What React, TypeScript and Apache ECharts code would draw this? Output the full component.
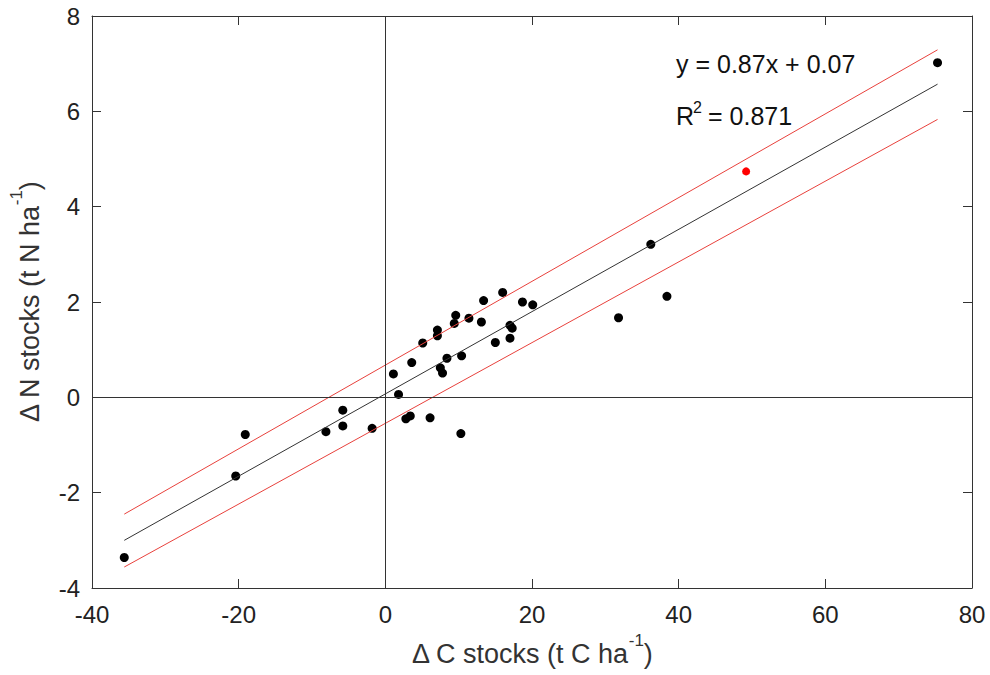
import React, { useEffect, useRef } from "react";
import * as echarts from "echarts";

const pointsX = [-35.6, -20.4, -19.1, -8.1, -5.8, -5.8, -1.8, 1.8, 1.1, 2.8, 3.4, 6.1, 10.3, 3.6, 5.1, 7.1, 7.1, 7.5, 7.8, 8.4, 9.6, 9.4, 10.4, 11.4, 13.1, 13.4, 15.0, 16.0, 17.0, 17.3, 17.0, 18.7, 20.1, 31.8, 38.4, 36.2, 75.3];
const pointsY = [-3.36, -1.65, -0.78, -0.72, -0.27, -0.60, -0.65, 0.06, 0.49, -0.45, -0.39, -0.43, -0.76, 0.73, 1.14, 1.41, 1.29, 0.62, 0.51, 0.82, 1.72, 1.55, 0.87, 1.66, 1.58, 2.03, 1.15, 2.20, 1.51, 1.45, 1.24, 2.0, 1.94, 1.67, 2.12, 3.21, 7.02];
const redPoint = [49.2, 4.74];
const fitX = [-35.6, 75.3];
const fitY = [-3.0, 6.57];
const upperY = [-2.45, 7.29];
const lowerY = [-3.56, 5.83];

const FONT = "'Liberation Sans', Arial, Helvetica, sans-serif";
const AXIS_COLOR = "#333";

export default function App() {
  const ref = useRef<HTMLDivElement>(null);
  useEffect(() => {
    document.body.style.margin = "0";
    if (!ref.current) return;
    const chart = echarts.init(ref.current, null, { renderer: "svg" });
    const pts = pointsX.map((x, i) => [x, pointsY[i]]);
    const line = (ys: number[]) => fitX.map((x, i) => [x, ys[i]]);
    const axisCommon = {
      type: "value" as const,
      splitLine: { show: false },
      axisLine: { show: true, onZero: false, lineStyle: { color: AXIS_COLOR, width: 1 } },
      axisTick: { show: true, inside: true, length: 9, lineStyle: { color: AXIS_COLOR } },
    };
    const nameRich = {
      a: { fontSize: 27, fontFamily: FONT, color: "#333", lineHeight: 44 },
      s: { fontSize: 17, fontFamily: FONT, color: "#333", lineHeight: 17, verticalAlign: "top" },
    };
    chart.setOption({
      animation: false,
      backgroundColor: "#fff",
      grid: { left: 88, right: 18, top: 16, bottom: 87, show: false },
      xAxis: [
        {
          ...axisCommon,
          min: -40,
          max: 80,
          interval: 20,
          axisLabel: { color: "#222", fontSize: 24, fontFamily: FONT, margin: 14 },
          name: "{a|Δ C stocks (t C ha}{s|-1}{a|)}",
          nameLocation: "middle",
          nameGap: 44,
          nameTextStyle: { rich: nameRich },
        },
        {
          ...axisCommon,
          position: "top",
          min: -40,
          max: 80,
          interval: 20,
          axisLabel: { show: false },
        },
      ],
      yAxis: [
        {
          ...axisCommon,
          min: -4,
          max: 8,
          interval: 2,
          axisLabel: { color: "#222", fontSize: 24, fontFamily: FONT, margin: 12 },
          name: "{a|Δ N stocks (t N ha}{s|-1}{a|)}",
          nameLocation: "middle",
          nameGap: 40,
          nameTextStyle: { rich: nameRich },
        },
        {
          ...axisCommon,
          position: "right",
          min: -4,
          max: 8,
          interval: 2,
          axisLabel: { show: false },
        },
      ],
      series: [
        {
          type: "line",
          data: line(upperY),
          showSymbol: false,
          lineStyle: { color: "#e8413c", width: 1 },
          silent: true,
          markLine: {
            silent: true,
            symbol: "none",
            label: { show: false },
            lineStyle: { color: "#333", width: 1, type: "solid" },
            data: [{ xAxis: 0 }, { yAxis: 0 }],
          },
        },
        {
          type: "line",
          data: line(lowerY),
          showSymbol: false,
          lineStyle: { color: "#e8413c", width: 1 },
          silent: true,
        },
        {
          type: "line",
          data: line(fitY),
          showSymbol: false,
          lineStyle: { color: "#333", width: 1 },
          silent: true,
        },
        {
          type: "scatter",
          data: pts,
          symbolSize: 9,
          itemStyle: { color: "#000", opacity: 1 },
        },
        {
          type: "scatter",
          data: [redPoint],
          symbolSize: 8,
          itemStyle: { color: "#f00", opacity: 1 },
        },
      ],
      graphic: [
        {
          type: "text",
          x: 676,
          y: 64,
          style: { text: "y = 0.87x + 0.07", fontSize: 25, fontFamily: FONT, fill: "#111", verticalAlign: "middle" },
        },
        {
          type: "text",
          x: 676,
          y: 116,
          style: { text: "R", fontSize: 25, fontFamily: FONT, fill: "#111", verticalAlign: "middle" },
        },
        {
          type: "text",
          x: 693,
          y: 107,
          style: { text: "2", fontSize: 16, fontFamily: FONT, fill: "#111", verticalAlign: "middle" },
        },
        {
          type: "text",
          x: 708,
          y: 116,
          style: { text: "= 0.871", fontSize: 25, fontFamily: FONT, fill: "#111", verticalAlign: "middle" },
        },
      ],
    });
    return () => chart.dispose();
  }, []);
  return <div ref={ref} style={{ width: 990, height: 675 }} />;
}
